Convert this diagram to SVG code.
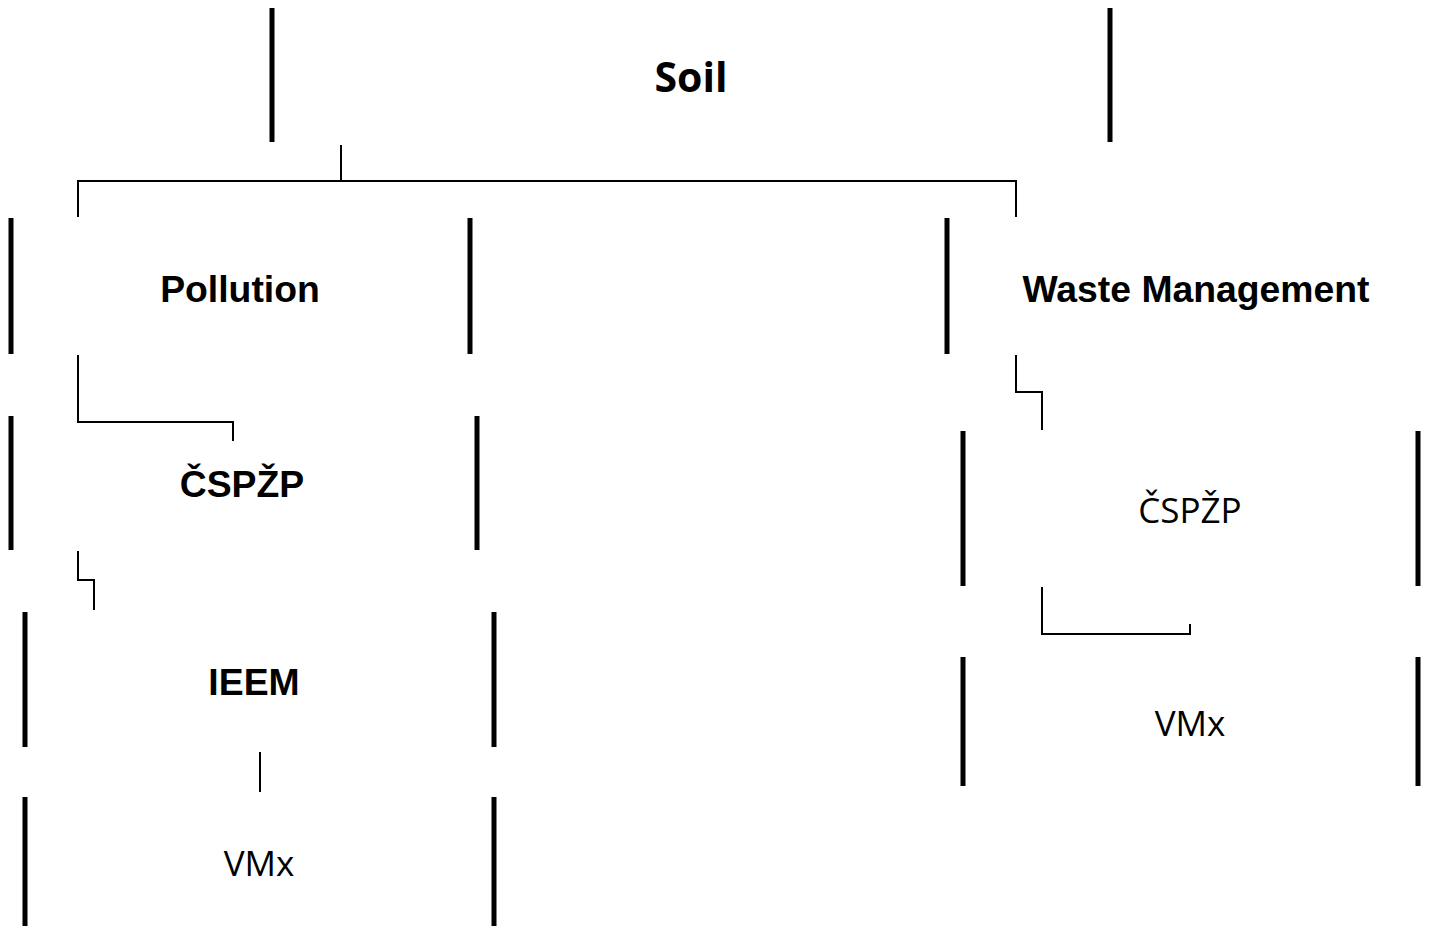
<svg xmlns="http://www.w3.org/2000/svg" width="1441" height="926" viewBox="0 0 1441 926">
<style>
.bar{stroke:#000;stroke-width:5;fill:none}
.conn{stroke:#000;stroke-width:2;fill:none}
.tb{font-family:"Liberation Sans",Arial,sans-serif;font-weight:bold;font-size:37.33px;text-anchor:middle;fill:#000}
.th{font-family:"Open Sans","Noto Sans",sans-serif;font-size:35px;text-anchor:middle;fill:#000}
.ths{font-family:"Open Sans","Noto Sans",sans-serif;font-weight:bold;font-size:41px;text-anchor:middle;fill:#000}
</style>
<rect width="1441" height="926" fill="#fff"/>
<g id="connectors">
<path class="conn" d="M341 145 V181 H78 V217"/>
<path class="conn" d="M341 181 H1016 V217"/>
<path class="conn" d="M78 355 V422 H233 V441"/>
<path class="conn" d="M78 551 V580 H94 V610"/>
<path class="conn" d="M260 752 V792"/>
<path class="conn" d="M1016 355 V392 H1042 V430"/>
<path class="conn" d="M1042 587 V634 H1190 V624"/>
</g>
<g id="soil">
<line class="bar" x1="272" y1="8" x2="272" y2="142"/>
<line class="bar" x1="1110" y1="8" x2="1110" y2="142"/>
<text class="ths" x="691" y="92">Soil</text>
</g>
<g id="pollution">
<line class="bar" x1="11" y1="218" x2="11" y2="354"/>
<line class="bar" x1="470" y1="218" x2="470" y2="354"/>
<text class="tb" x="240" y="302">Pollution</text>
</g>
<g id="waste">
<line class="bar" x1="947" y1="218" x2="947" y2="354"/>
<text class="tb" x="1196" y="302">Waste Management</text>
</g>
<g id="cspzp-left">
<line class="bar" x1="11" y1="416" x2="11" y2="550"/>
<line class="bar" x1="477" y1="416" x2="477" y2="550"/>
<text class="tb" x="242" y="497">ČSPŽP</text>
</g>
<g id="ieem">
<line class="bar" x1="25" y1="612" x2="25" y2="747"/>
<line class="bar" x1="494" y1="612" x2="494" y2="747"/>
<text class="tb" x="254" y="695">IEEM</text>
</g>
<g id="vmx-left">
<line class="bar" x1="25" y1="797" x2="25" y2="926"/>
<line class="bar" x1="494" y1="797" x2="494" y2="926"/>
<text class="th" x="259" y="876">VMx</text>
</g>
<g id="cspzp-right">
<line class="bar" x1="963" y1="431" x2="963" y2="586"/>
<line class="bar" x1="1418" y1="431" x2="1418" y2="586"/>
<text class="th" x="1190" y="523">ČSPŽP</text>
</g>
<g id="vmx-right">
<line class="bar" x1="963" y1="657" x2="963" y2="786"/>
<line class="bar" x1="1418" y1="657" x2="1418" y2="786"/>
<text class="th" x="1190" y="736">VMx</text>
</g>
</svg>
